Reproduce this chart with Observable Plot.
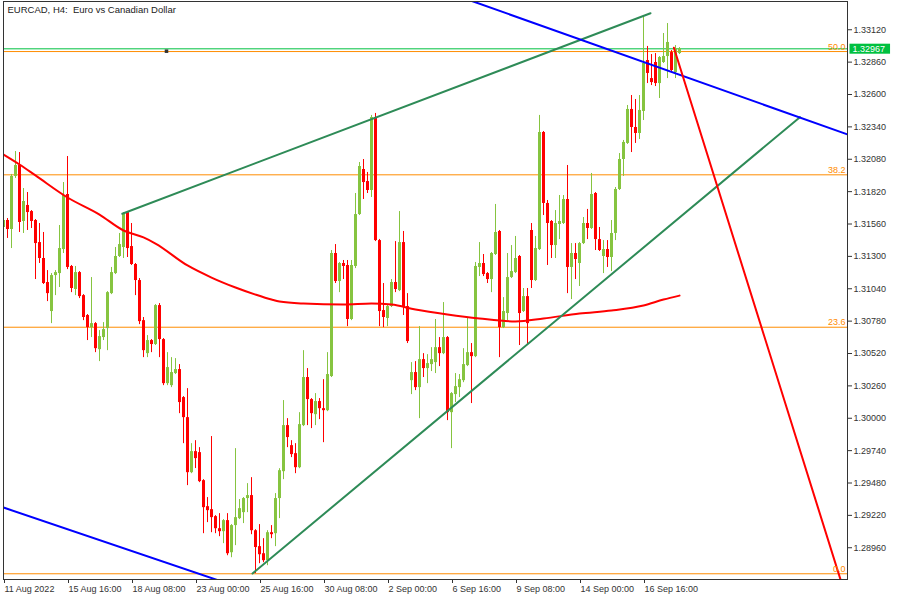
<!DOCTYPE html>
<html><head><meta charset="utf-8">
<script src="https://cdn.jsdelivr.net/npm/d3@7"></script>
<script src="https://cdn.jsdelivr.net/npm/@observablehq/plot@0.6"></script>
<style>
html,body{margin:0;padding:0;background:#fff;}
#chart svg{display:block;}
#chart svg text{white-space:pre;}
</style>
</head><body><div id="chart"></div>
<script>
const title = "EURCAD, H4:  Euro vs Canadian Dollar";

const opens = [1.31532,1.31588,1.31516,1.31942,1.32030,1.31580,1.31709,1.31660,1.31588,1.31411,
1.31283,1.31090,1.30857,1.31146,1.31162,1.31355,1.31797,1.31219,1.31034,1.31170,
1.30985,1.30825,1.30728,1.30760,1.30551,1.30648,1.30720,1.31001,1.31162,1.31299,
1.31371,1.31652,1.31379,1.31235,1.31106,1.30784,1.30519,1.30624,1.30592,1.30905,
1.30632,1.30278,1.30262,1.30359,1.30391,1.30166,1.30005,1.29563,1.29732,1.29724,
1.29499,1.29290,1.29266,1.29210,1.29113,1.29089,1.29178,1.28920,1.29138,1.29194,
1.29242,1.29355,1.29379,1.29097,1.28969,1.28912,1.28856,1.29081,1.29073,1.29355,
1.29571,1.29941,1.29780,1.29716,1.29603,1.29941,1.30327,1.30150,1.30029,1.30134,
1.30077,1.30061,1.30335,1.31323,1.31098,1.31243,1.31227,1.30793,1.31219,1.31636,
1.31998,1.31901,1.31829,1.32415,1.31427,1.30865,1.30801,1.30897,1.31090,1.31025,
1.31411,1.30897,1.30302,1.30367,1.30246,1.30471,1.30399,1.30431,1.30447,1.30567,
1.30519,1.30648,1.30045,1.30190,1.30246,1.30302,1.30423,1.30527,1.30495,1.31211,
1.31243,1.31162,1.31114,1.31315,1.31500,1.30728,1.30841,1.31130,1.31170,1.31299,
1.30857,1.30977,1.31508,1.31106,1.31355,1.32295,1.31725,1.31580,1.31387,1.31556,
1.31564,1.31757,1.31211,1.31323,1.31243,1.31403,1.31564,1.31524,1.31805,1.31435,
1.31299,1.31355,1.31291,1.31484,1.31837,1.32078,1.32207,1.32480,1.32335,1.32287,
1.32464,1.32873,1.32728,1.32857,1.32688,1.32857,1.32905,1.32937,1.32777,1.32929];

const highs = [1.31628,1.31604,1.31958,1.32142,1.32134,1.31845,1.31813,1.31668,1.31596,1.31564,
1.31492,1.31186,1.31162,1.31186,1.31548,1.31893,1.32102,1.31227,1.31219,1.31178,
1.30993,1.30833,1.31130,1.30768,1.30704,1.30768,1.31017,1.31211,1.31371,1.31484,
1.31652,1.31660,1.31564,1.31243,1.31122,1.30809,1.30664,1.30632,1.30913,1.30921,
1.30640,1.30527,1.30487,1.30479,1.30431,1.30174,1.30238,1.29796,1.29820,1.29764,
1.29507,1.29363,1.29853,1.29218,1.29234,1.29186,1.29234,1.29146,1.29756,1.29347,
1.29363,1.29475,1.29523,1.29105,1.29146,1.29033,1.29097,1.29138,1.29395,1.29595,
1.30142,1.29997,1.29820,1.29796,1.30045,1.30543,1.30399,1.30158,1.30198,1.30158,
1.30310,1.30527,1.31347,1.31395,1.31251,1.31267,1.31267,1.31267,1.31805,1.32054,
1.32078,1.31974,1.32432,1.32448,1.31436,1.31082,1.30905,1.31114,1.31419,1.31660,
1.31500,1.31001,1.30447,1.30455,1.30736,1.30519,1.30511,1.30567,1.30793,1.30648,
1.30929,1.30656,1.30206,1.30359,1.30351,1.30559,1.30801,1.30600,1.31251,1.31411,
1.31315,1.31170,1.31331,1.31717,1.31508,1.30969,1.31323,1.31387,1.31460,1.31307,
1.31042,1.31042,1.31564,1.31460,1.32432,1.32303,1.31749,1.31588,1.31668,1.31789,
1.31789,1.32030,1.31403,1.31403,1.31411,1.31612,1.31677,1.31966,1.31813,1.31532,
1.31427,1.31427,1.31588,1.31853,1.32126,1.32231,1.32512,1.32592,1.32560,1.32592,
1.33226,1.32986,1.32921,1.32929,1.32905,1.33090,1.33170,1.32953,1.32993,1.32977];

const lows = [1.31492,1.31444,1.31363,1.31926,1.31492,1.31484,1.31508,1.31524,1.31114,1.31243,
1.31074,1.30937,1.30760,1.30985,1.31050,1.31323,1.31194,1.31009,1.30985,1.30961,
1.30784,1.30624,1.30648,1.30527,1.30455,1.30624,1.30543,1.30993,1.31154,1.31291,
1.31283,1.31291,1.31227,1.30985,1.30752,1.30487,1.30487,1.30527,1.30584,1.30487,
1.30262,1.30262,1.30246,1.30351,1.30037,1.29796,1.29459,1.29555,1.29596,1.29483,
1.29073,1.29162,1.29081,1.29073,1.29049,1.28993,1.28896,1.28880,1.28977,1.29186,
1.29154,1.29242,1.29065,1.28752,1.28832,1.28840,1.28816,1.29033,1.28969,1.29194,
1.29507,1.29764,1.29684,1.29555,1.29595,1.29933,1.29941,1.29917,1.29941,1.29989,
1.29804,1.30053,1.30327,1.31082,1.31009,1.31114,1.30736,1.30784,1.31202,1.31628,
1.31757,1.31805,1.31773,1.31419,1.30736,1.30728,1.30736,1.30889,1.31009,1.31017,
1.30825,1.30600,1.30190,1.30222,1.29997,1.30327,1.30278,1.30375,1.30359,1.30415,
1.30511,1.29981,1.29756,1.30126,1.30166,1.30286,1.30415,1.30118,1.30487,1.31138,
1.31138,1.31082,1.31009,1.31307,1.30487,1.30720,1.30784,1.31122,1.31162,1.30584,
1.30849,1.30584,1.31042,1.31098,1.31347,1.31628,1.31227,1.31283,1.31283,1.31435,
1.31556,1.31001,1.30953,1.31114,1.31058,1.31395,1.31435,1.31516,1.31347,1.31339,
1.31162,1.31211,1.31178,1.31427,1.31829,1.31942,1.32199,1.32134,1.32207,1.32239,
1.32391,1.32688,1.32672,1.32664,1.32568,1.32849,1.32728,1.32777,1.32728,1.32921];

const closes = [1.31588,1.31516,1.31942,1.32030,1.31572,1.31741,1.31652,1.31580,1.31403,1.31283,
1.31082,1.31001,1.31146,1.31170,1.31363,1.31789,1.31211,1.31042,1.31170,1.30977,
1.30809,1.30728,1.30760,1.30559,1.30656,1.30712,1.31009,1.31170,1.31299,1.31395,
1.31644,1.31363,1.31235,1.31106,1.30776,1.30543,1.30624,1.30592,1.30905,1.30632,
1.30278,1.30407,1.30367,1.30391,1.30126,1.30005,1.29563,1.29732,1.29676,1.29491,
1.29282,1.29258,1.29202,1.29113,1.29089,1.29178,1.28912,1.29138,1.29202,1.29274,
1.29355,1.29379,1.29097,1.28961,1.28904,1.28856,1.29081,1.29065,1.29355,1.29579,
1.29941,1.29845,1.29708,1.29603,1.29949,1.30327,1.30150,1.30037,1.30134,1.30077,
1.30061,1.30351,1.31323,1.31098,1.31243,1.31219,1.30793,1.31227,1.31636,1.32022,
1.31893,1.31829,1.32415,1.31427,1.30857,1.30809,1.30897,1.31090,1.31034,1.31411,
1.30897,1.30616,1.30367,1.30246,1.30471,1.30399,1.30439,1.30471,1.30567,1.30519,
1.30648,1.30045,1.30198,1.30254,1.30310,1.30431,1.30527,1.30495,1.31219,1.31243,
1.31154,1.31114,1.31323,1.31492,1.30728,1.30857,1.31130,1.31178,1.31283,1.30841,
1.30977,1.30760,1.31106,1.31363,1.32295,1.31725,1.31564,1.31387,1.31564,1.31580,
1.31757,1.31211,1.31323,1.31275,1.31403,1.31564,1.31524,1.31797,1.31435,1.31347,
1.31355,1.31291,1.31484,1.31837,1.32078,1.32215,1.32480,1.32335,1.32287,1.32472,
1.32849,1.32769,1.32696,1.32688,1.32897,1.32905,1.33018,1.32793,1.32969,1.32967];

// moving average read at selected bars
const maBars = [0,4,8,16,24,30,35,38,46,52,58,63,67,69,75,85,92,97,103,111,119,128,135,144,152,160,165,169];
const maValues = [1.32118,1.32038,1.31950,1.31773,1.31636,1.31508,1.31452,1.31403,1.31227,1.31130,1.31050,1.30993,1.30953,1.30937,1.30921,1.30913,1.30921,1.30913,1.30873,1.30833,1.30801,1.30777,1.30801,1.30841,1.30865,1.30905,1.30953,1.30985];

// x axis ticks (bar index) and labels
const xTickBars = [0,16,32,48,64,80,96,112,128,144,160];
const xTickLabels = ["11 Aug 2022","15 Aug 16:00","18 Aug 08:00","23 Aug 00:00","25 Aug 16:00","30 Aug 08:00","2 Sep 00:00","6 Sep 16:00","9 Sep 08:00","14 Sep 00:00","16 Sep 16:00"];
// y axis tick prices
const yTicks = [1.28960,1.29220,1.29480,1.29740,1.30000,1.30260,1.30520,1.30780,1.31040,1.31300,1.31560,1.31820,1.32080,1.32340,1.32600,1.32860,1.33120];

// Fibonacci levels
const fibLabels = ["0.0","23.6","38.2","50.0"];
const fibPrices = [1.28751,1.30731,1.31955,1.32945];
const fibAnchorBar = [40.75];
const fibAnchorPrice = [1.32948];

const lastPrice = 1.32967;

// drawn lines: [bar, price] endpoints
const lineNames = ["upperGreen","lowerGreen","blueUpper","blueLower","redProjection"];
const lineColors = ["#2e8b57","#2e8b57","#0000ff","#0000ff","#ff0000"];
const lineBars = [[29.7,161.75],[62.25,199.1],[116.75,211],[0,54],[167.6,210]];
const linePrices = [[1.31642,1.33253],[1.28753,1.32418],[1.33355,1.32279],[1.29283,1.28695],[1.32975,1.28628]];

const bull = "#86c440", bear = "#ff0000";
const candles = opens.map((o,i)=>({i, open:o, high:highs[i], low:lows[i], close:closes[i]}));
const up = candles.filter(d=>d.close>=d.open);
const down = candles.filter(d=>d.close<d.open);
const ma = maBars.map((b,i)=>({b, v:maValues[i]}));
const labelMap = new Map(xTickBars.map((b,i)=>[b, xTickLabels[i]]));

const lineMarks = lineNames.map((n,k)=>Plot.line(
  lineBars[k].map((b,j)=>({b, p:linePrices[k][j]})),
  {x:"b", y:"p", stroke:lineColors[k], strokeWidth:2, clip:true}));

const chart = Plot.plot({
  width:900, height:600,
  marginLeft:3, marginRight:53, marginTop:1, marginBottom:21,
  x:{type:"linear", domain:[0,211]},
  y:{type:"linear", domain:[1.28705,1.33347]},
  style:{fontFamily:"'Liberation Sans', Arial, sans-serif", fontSize:"9px", color:"#333", background:"#fff", overflow:"visible"},
  marks:[
    Plot.ruleY(fibPrices, {stroke:"#ff8c00", strokeWidth:1}),
    Plot.ruleY([lastPrice], {stroke:"#00c040", strokeWidth:1}),
    Plot.ruleX(up, {x:"i", y1:"low", y2:"high", stroke:bull, strokeWidth:1, clip:true}),
    Plot.ruleX(down, {x:"i", y1:"low", y2:"high", stroke:bear, strokeWidth:1, clip:true}),
    Plot.ruleX(up, {x:"i", y1:"open", y2:"close", stroke:bull, strokeWidth:3, clip:true}),
    Plot.ruleX(down, {x:"i", y1:"open", y2:"close", stroke:bear, strokeWidth:3, clip:true}),
    Plot.line(ma, {x:"b", y:"v", stroke:"#ff0000", strokeWidth:2, curve:"monotone-x", clip:true}),
    ...lineMarks,
    Plot.dot(fibAnchorBar.map((b,i)=>({b, p:fibAnchorPrice[i]})), {x:"b", y:"p", symbol:"square", r:2, fill:"#333", stroke:null}),
    Plot.text(fibPrices, {y:d=>d, text:(d,i)=>fibLabels[i], frameAnchor:"right", textAnchor:"end", lineAnchor:"bottom", dx:-2, dy:-2, fill:"#ff8c00", fontSize:9}),
    Plot.text([title], {frameAnchor:"top-left", textAnchor:"start", lineAnchor:"top", dx:4, dy:5, fill:"#222", fontSize:9.5}),
    Plot.frame({stroke:"#333", strokeWidth:1}),
    Plot.axisX(xTickBars, {anchor:"bottom", tickSize:4, tickPadding:2, tickFormat:d=>labelMap.get(d), textAnchor:"start", dx:1, fontSize:9, stroke:"#333", fill:"#333"}),
    Plot.axisY(yTicks, {anchor:"right", tickSize:4, tickPadding:2, tickFormat:d=>d.toFixed(5), fontSize:9, stroke:"#333", fill:"#333"}),
    Plot.text([lastPrice], {y:d=>d, text:d=>d.toFixed(5), frameAnchor:"right", textAnchor:"start", dx:5, fill:"white", fontSize:9})
  ]
});
document.getElementById("chart").append(chart);

// green price tag background behind the last-price label
const tagText = lastPrice.toFixed(5);
chart.querySelectorAll("text").forEach(t=>{
  if (t.textContent === tagText) {
    const bb = t.getBBox();
    const r = document.createElementNS("http://www.w3.org/2000/svg","rect");
    r.setAttribute("x", bb.x - 3);
    r.setAttribute("y", bb.y);
    r.setAttribute("width", bb.width + 8);
    r.setAttribute("height", bb.height);
    r.setAttribute("fill", "#00c040");
    if (t.getAttribute("transform")) r.setAttribute("transform", t.getAttribute("transform"));
    t.parentNode.insertBefore(r, t);
  }
});
</script>
</body></html>
